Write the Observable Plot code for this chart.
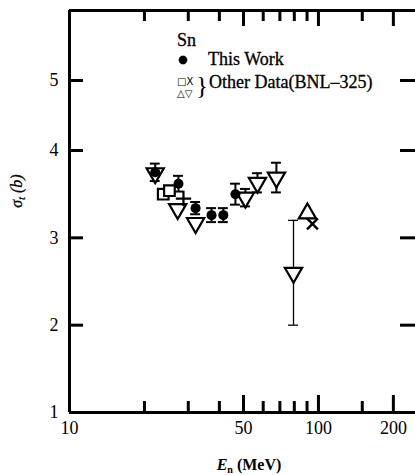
<!DOCTYPE html>
<html><head><meta charset="utf-8">
<script src="https://cdn.jsdelivr.net/npm/d3@7"></script>
<script src="https://cdn.jsdelivr.net/npm/@observablehq/plot@0.6"></script>
<style>body{margin:0;background:#fff}</style>
</head><body><div id="chart"></div>
<script>
// This Work (filled circles)
const workE = [22.1, 27.4, 32.1, 37.2, 41.5, 46.4];
const workS = [3.75, 3.62, 3.34, 3.26, 3.26, 3.50];
const workErr = [0.10, 0.09, 0.07, 0.08, 0.08, 0.12];
// Other data (BNL-325): open squares
const squareE = [23.8, 25.2];
const squareS = [3.50, 3.54];
// Other data: downward triangles
const downE = [22.1, 27.2, 32.1, 50.9, 56.9, 67.8, 79.4];
const downS = [3.74, 3.33, 3.17, 3.46, 3.63, 3.69, 2.60];
const downErr = [0, 0, 0, 0.10, 0.11, 0.17, 0.60];
// Other data: upward triangle, crosses
const upE = [90.3];
const upS = [3.28];
const timesE = [94.6];
const timesS = [3.16];
const plusE = [28.7];
const plusS = [3.45];
// ticks
const xTickLabels = [10, 50, 100, 200];
const xMajor = [50, 100, 200];
const xMinor = [20, 30, 40, 60, 70, 80, 90, 150];
const yTicks = [1, 2, 3, 4, 5];

const work = workE.map((E, i) => ({E, s: workS[i], e: workErr[i]}));
const squares = squareE.map((E, i) => ({E, s: squareS[i]}));
const down = downE.map((E, i) => ({E, s: downS[i], e: downErr[i]}));
const downBars = down.filter(d => d.e > 0);
const up = upE.map((E, i) => ({E, s: upS[i]}));
const times = timesE.map((E, i) => ({E, s: timesS[i]}));
const plus = plusE.map((E, i) => ({E, s: plusS[i]}));

const W = 415, H = 475, mL = 69, mT = 10, mB = 63, mR = 0;
const plotH = H - mT - mB, plotW = W - mL - mR;
const cap = 1.047;
const serif = "'Liberation Serif', 'Times New Roman', serif";

function errBars(data, sw) {
  return [
    Plot.ruleX(data, {x: "E", y1: d => d.s - d.e, y2: d => d.s + d.e, stroke: "black", strokeWidth: sw}),
    Plot.ruleY(data, {y: d => d.s + d.e, x1: d => d.E / cap, x2: d => d.E * cap, stroke: "black", strokeWidth: sw}),
    Plot.ruleY(data, {y: d => d.s - d.e, x1: d => d.E / cap, x2: d => d.E * cap, stroke: "black", strokeWidth: sw})
  ];
}

const chart = Plot.plot({
  width: W, height: H,
  marginLeft: mL, marginTop: mT, marginBottom: mB, marginRight: mR,
  style: {background: "#fff", fontFamily: serif, color: "#000", overflow: "visible"},
  x: {type: "log", domain: [10, 250], range: [mL, 417]},
  y: {type: "linear", domain: [1, 4, 6], range: [H - mB, 150, mT]},
  marks: [
    Plot.ruleX([10], {stroke: "black", strokeWidth: 3}),
    Plot.ruleY([1], {stroke: "black", strokeWidth: 3}),
    Plot.ruleY([6], {stroke: "black", strokeWidth: 3}),
    Plot.tickX(xMinor, {x: d => d, insetTop: plotH - 11, stroke: "black", strokeWidth: 3}),
    Plot.tickX(xMajor, {x: d => d, insetTop: plotH - 17, stroke: "black", strokeWidth: 3}),
    Plot.tickX(xMinor, {x: d => d, insetBottom: plotH - 11, stroke: "black", strokeWidth: 3}),
    Plot.tickX(xMajor, {x: d => d, insetBottom: plotH - 16, stroke: "black", strokeWidth: 3}),
    Plot.tickY(yTicks.slice(1), {y: d => d, insetRight: plotW - 14, stroke: "black", strokeWidth: 3}),
    Plot.tickY(yTicks.slice(1), {y: d => d, insetLeft: plotW - 15, stroke: "black", strokeWidth: 3}),
    Plot.axisX({ticks: xTickLabels, tickSize: 0, tickPadding: 9, fontSize: 18, fontFamily: serif, stroke: "black", strokeWidth: 0.3, tickFormat: d => String(d), label: null}),
    Plot.axisY({ticks: yTicks, tickSize: 0, tickPadding: 11, fontSize: 18, fontFamily: serif, stroke: "black", strokeWidth: 0.3, tickFormat: d => String(d), label: null}),
    ...errBars(work, 2),
    ...errBars(downBars.filter(d => d.e < 0.5), 2),
    ...errBars(downBars.filter(d => d.e >= 0.5), 1.3),
    Plot.dot(down, {x: "E", y: "s", symbol: "triangle", r: 6.4, rotate: 180, fill: "white", stroke: "black", strokeWidth: 2.2}),
    Plot.dot(squares, {x: "E", y: "s", symbol: "square", r: 6, fill: "white", stroke: "black", strokeWidth: 2.2}),
    Plot.dot(up, {x: "E", y: "s", symbol: "triangle", r: 6.4, fill: "white", stroke: "black", strokeWidth: 2.2}),
    Plot.dot(times, {x: "E", y: "s", symbol: "times", r: 5, stroke: "black", strokeWidth: 2.4}),
    Plot.dot(plus, {x: "E", y: "s", symbol: "plus", r: 5, stroke: "black", strokeWidth: 2.2}),
    Plot.dot(work, {x: "E", y: "s", symbol: "circle", r: 5, fill: "black", stroke: "none"})
  ]
});
document.getElementById("chart").appendChild(chart);

const svg = d3.select(chart);
// axis titles
const xl = svg.append("text").attr("x", 249).attr("y", 470).attr("text-anchor", "middle")
  .attr("font-family", serif).attr("font-size", 16).attr("font-weight", "bold");
xl.append("tspan").attr("font-style", "italic").text("E");
xl.append("tspan").attr("font-size", 10).attr("dy", 3).text("n");
xl.append("tspan").attr("dy", -3).text(" (MeV)");

const yl = svg.append("text").attr("transform", "translate(22,191) rotate(-90)").attr("text-anchor", "middle")
  .attr("font-family", serif).attr("font-size", 16).attr("font-style", "italic")
  .attr("stroke", "black").attr("stroke-width", 0.3);
yl.append("tspan").text("σ");
yl.append("tspan").attr("font-size", 10).attr("dy", 3).text("t");
yl.append("tspan").attr("dy", -3).text(" (b)");

// legend
const lg = svg.append("g").attr("font-family", serif).attr("fill", "black").attr("text-anchor", "start")
  .attr("stroke", "black").attr("stroke-width", 0.3);
lg.append("text").attr("x", 177).attr("y", 46).attr("font-size", 18).text("Sn");
lg.append("circle").attr("cx", 183).attr("cy", 60).attr("r", 4.2).attr("fill", "black");
lg.append("text").attr("x", 208).attr("y", 65).attr("font-size", 18).text("This Work");
lg.append("text").attr("x", 177).attr("y", 85).attr("font-size", 10).attr("stroke-width", 0).attr("font-family", "'DejaVu Sans', sans-serif").text("□X");
lg.append("text").attr("x", 177).attr("y", 97).attr("font-size", 10).attr("stroke-width", 0).attr("font-family", "'DejaVu Sans', sans-serif").text("△▽");
lg.append("text").attr("x", 196).attr("y", 94).attr("font-size", 25).attr("stroke-width", 0).text("}");
lg.append("text").attr("x", 209).attr("y", 88).attr("font-size", 18).text("Other Data(BNL–325)");
</script>
</body></html>
